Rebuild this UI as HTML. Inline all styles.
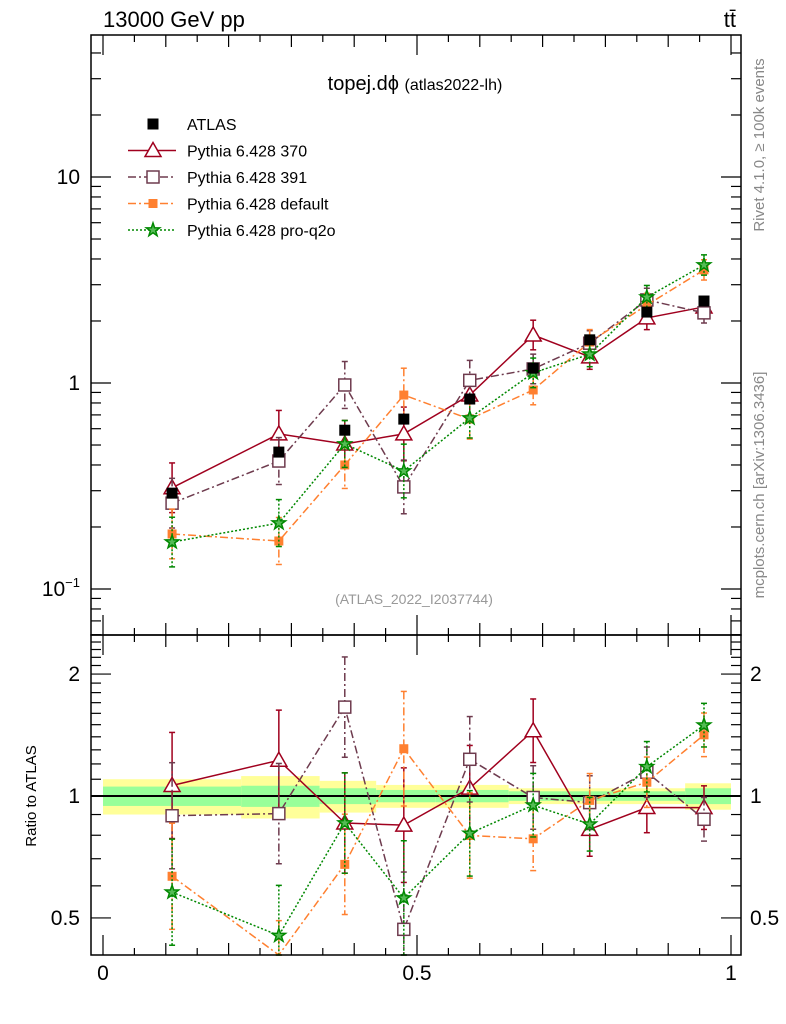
<!DOCTYPE html>
<html><head><meta charset="utf-8"><style>
body{margin:0;background:#fff}
svg{display:block;font-family:"Liberation Sans",sans-serif}
</style></head><body>
<svg id="c" width="786" height="1024" viewBox="0 0 786 1024">
<rect x="0" y="0" width="786" height="1024" fill="#fff"/>
<text x="103" y="27" font-size="22">13000 GeV pp</text>
<text x="736" y="27" font-size="22" text-anchor="end">tt̄</text>
<text x="415" y="90" font-size="20" text-anchor="middle">topej.dϕ <tspan font-size="16">(atlas2022-lh)</tspan></text>
<text x="414" y="604" font-size="14" fill="#999" text-anchor="middle">(ATLAS_2022_I2037744)</text>
<text transform="translate(764,145) rotate(-90)" font-size="15" fill="#888" text-anchor="middle">Rivet 4.1.0, ≥ 100k events</text>
<text transform="translate(764,485) rotate(-90)" font-size="15" fill="#888" text-anchor="middle">mcplots.cern.ch [arXiv:1306.3436]</text>
<text transform="translate(36,796) rotate(-90)" font-size="15" text-anchor="middle">Ratio to ATLAS</text>
<g id="bands"></g>
<g id="main"></g>
<g id="ratio"></g>
<g id="axes"></g>
<g id="legend"></g>
</svg>
<script>
const xs=[0.11,0.28,0.385,0.479,0.584,0.685,0.775,0.866,0.957];
const binEdges=[0,0.22,0.345,0.435,0.53,0.646,0.73,0.82,0.927,1];
const atlas=[0.292,0.462,0.59,0.668,0.836,1.18,1.62,2.21,2.5];
const bandYellow=[0.10,0.12,0.09,0.065,0.065,0.045,0.045,0.045,0.075];
const bandGreen=[0.055,0.06,0.045,0.035,0.035,0.027,0.027,0.027,0.045];
const p370=[0.31,0.566,0.506,0.566,0.874,1.71,1.34,2.07,2.34];
const p391=[0.261,0.418,0.978,0.313,1.03,1.17,1.56,2.53,2.19];
const pdef=[0.185,0.171,0.40,0.874,0.668,0.925,1.58,2.39,3.54];
const pq2o=[0.169,0.209,0.506,0.374,0.676,1.12,1.38,2.61,3.74];
const relErr=[0.32,0.3,0.3,0.35,0.25,0.18,0.15,0.14,0.12];
const atlasErr=[0.06,0.07,0.05,0.04,0.04,0.03,0.03,0.03,0.04];
const mainTicks=[0.1,1,10];
const ratioTicks=[0.5,1,2];
const xTicks=[0,0.5,1];

const NS="http://www.w3.org/2000/svg";
const X0=91,X1=741,MT=35,MB=635,RB=955;
const sx=v=>103+v*628;
const sy=v=>383-Math.log10(v)*206;
const ry=v=>796-Math.log10(v)*405;
function mk(t,a,p){const e=document.createElementNS(NS,t);for(const k in a)e.setAttribute(k,a[k]);p.appendChild(e);return e;}
const G=id=>document.getElementById(id);

const bg=G('bands');
for(let i=0;i<binEdges.length-1;i++){
  const x=sx(binEdges[i]),w=sx(binEdges[i+1])-x;
  let e=mk('rect',{x:x,y:ry(1+bandYellow[i]),width:w,height:ry(1-bandYellow[i])-ry(1+bandYellow[i]),fill:'#ffff99'},bg);
  
  
  e=mk('rect',{x:x,y:ry(1+bandGreen[i]),width:w,height:ry(1-bandGreen[i])-ry(1+bandGreen[i]),fill:'#99ff99'},bg);
  
  
}
mk('line',{x1:X0,x2:X1,y1:ry(1),y2:ry(1),stroke:'#000','stroke-width':2},bg);

const series=[
 {n:'pythia-370',d:p370,c:'#a0001e',dash:'',m:'tri'},
 {n:'pythia-391',d:p391,c:'#6e3b4e',dash:'8,3,2,3',m:'sq'},
 {n:'pythia-default',d:pdef,c:'#ff8030',dash:'8,3,2,3',m:'fsq'},
 {n:'pythia-pro-q2o',d:pq2o,c:'#008800',dash:'2,2',m:'star'}];

function marker(m,x,y,c,p){
  let e;
  if(m==='tri')e=mk('polygon',{points:`${x},${y-8} ${x-8},${y+6} ${x+8},${y+6}`,fill:'#fff',stroke:c,'stroke-width':1.5},p);
  else if(m==='sq')e=mk('rect',{x:x-6,y:y-6,width:12,height:12,fill:'#fff',stroke:c,'stroke-width':1.5},p);
  else if(m==='fsq')e=mk('rect',{x:x-4.5,y:y-4.5,width:9,height:9,fill:c},p);
  else if(m==='blk')e=mk('rect',{x:x-5.5,y:y-5.5,width:11,height:11,fill:'#000'},p);
  else{let pts=[];for(let k=0;k<10;k++){const r=k%2?2.8:7,a=-Math.PI/2+k*Math.PI/5;pts.push((x+r*Math.cos(a)).toFixed(1)+','+(y+r*Math.sin(a)).toFixed(1));}
    e=mk('polygon',{points:pts.join(' '),fill:'#55bb55',stroke:c,'stroke-width':1.5},p);}
  return e;
}
function clip(v,lo,hi){return Math.max(lo,Math.min(hi,v));}
function drawPanel(g,fy,ratio,lo,hi){
  series.forEach(s=>{
    const vals=s.d.map((v,i)=>ratio?v/atlas[i]:v);
    const pts=vals.map((v,i)=>sx(xs[i])+','+clip(fy(v),lo,hi)).join(' ');
    let e=mk('polyline',{points:pts,fill:'none',stroke:s.c,'stroke-width':1.5,'stroke-dasharray':s.dash},g);
    
    
    vals.forEach((v,i)=>{
      const er=ratio?relErr[i]*1.1:relErr[i];
      const x=sx(xs[i]),y1=clip(fy(v*(1+er)),lo,hi),y2=clip(fy(v/(1+er)),lo,hi);
      mk('line',{x1:x,x2:x,y1:y1,y2:y2,stroke:s.c,'stroke-width':1.5,'stroke-dasharray':s.dash},g);
      mk('line',{x1:x-3,x2:x+3,y1:y1,y2:y1,stroke:s.c,'stroke-width':1.5},g);
      mk('line',{x1:x-3,x2:x+3,y1:y2,y2:y2,stroke:s.c,'stroke-width':1.5},g);
      const yy=fy(v);
      if(yy>lo&&yy<hi){e=marker(s.m,x,yy,s.c,g);
      
      }
    });
  });
}
const mg=G('main');
atlas.forEach((v,i)=>{
  const x=sx(xs[i]);
  mk('line',{x1:x,x2:x,y1:sy(v*(1+atlasErr[i])),y2:sy(v/(1+atlasErr[i])),stroke:'#000','stroke-width':1.5},mg);
});
drawPanel(mg,sy,false,MT,MB);
atlas.forEach((v,i)=>{
  const e=marker('blk',sx(xs[i]),sy(v),'#000',mg);
  
  
});
const rg=G('ratio');
drawPanel(rg,ry,true,MB,RB);

const ag=G('axes');
mk('rect',{x:X0,y:MT,width:X1-X0,height:MB-MT,fill:'none',stroke:'#000','stroke-width':1.5},ag);
mk('rect',{x:X0,y:MB,width:X1-X0,height:RB-MB,fill:'none',stroke:'#000','stroke-width':1.5},ag);
function ht(y,len){mk('line',{x1:X0,x2:X0+len,y1:y,y2:y,stroke:'#000','stroke-width':1.2},ag);mk('line',{x1:X1,x2:X1-len,y1:y,y2:y,stroke:'#000','stroke-width':1.2},ag);}
for(let d=-2;d<=1;d++)for(let k=1;k<10;k++){const v=k*Math.pow(10,d),y=sy(v);if(y>MT&&y<MB)ht(y,k===1?20:10);}
mainTicks.forEach(v=>{
  let t;
  if(v===0.1){t=mk('text',{x:80,y:sy(v)+7,'font-size':21,'text-anchor':'end'},ag);t.innerHTML='10<tspan font-size="13" dy="-9">−1</tspan>';}
  else{t=mk('text',{x:80,y:sy(v)+7,'font-size':21,'text-anchor':'end'},ag);t.textContent=String(v);}
  
  
});
for(let v=0.4;v<=2.5;v+=0.1){const y=ry(v);if(y>MB&&y<RB)ht(y,Math.abs(v-1)<1e-6||Math.abs(v-2)<1e-6||Math.abs(v-0.5)<1e-6?20:10);}
ratioTicks.forEach(v=>{
  let t=mk('text',{x:80,y:ry(v)+7,'font-size':21,'text-anchor':'end'},ag);t.textContent=String(v);
  
  
  t=mk('text',{x:750,y:ry(v)+7,'font-size':21},ag);t.textContent=String(v);
  
  
});
for(let k=0;k<=20;k++){const v=k*0.05,x=sx(v),L=k%10===0?20:(k%2===0?12:7);
  [MT,MB].forEach(y=>mk('line',{x1:x,x2:x,y1:y,y2:y+L,stroke:'#000','stroke-width':1.2},ag));
  [MB,RB].forEach(y=>mk('line',{x1:x,x2:x,y1:y,y2:y-L,stroke:'#000','stroke-width':1.2},ag));}
xTicks.forEach(v=>{
  const t=mk('text',{x:sx(v),y:980,'font-size':21,'text-anchor':'middle'},ag);t.textContent=String(v);
  
  
});

const lg=G('legend');
const legendItems=[{n:'ATLAS',m:'blk',c:'#000',dash:null},...series.map((s,i)=>({n:['Pythia 6.428 370','Pythia 6.428 391','Pythia 6.428 default','Pythia 6.428 pro-q2o'][i],m:s.m,c:s.c,dash:s.dash}))];
legendItems.forEach((it,i)=>{
  const y=124+i*26.5;
  const g=mk('g',{},lg);
  
  
  if(it.dash!==null)mk('line',{x1:128,x2:176,y1:y,y2:y,stroke:it.c,'stroke-width':1.5,'stroke-dasharray':it.dash},g);
  marker(it.m,153,y,it.c,g);
  const t=mk('text',{x:187,y:y+6,'font-size':16},g);t.textContent=it.n;
});
</script>
</body></html>
